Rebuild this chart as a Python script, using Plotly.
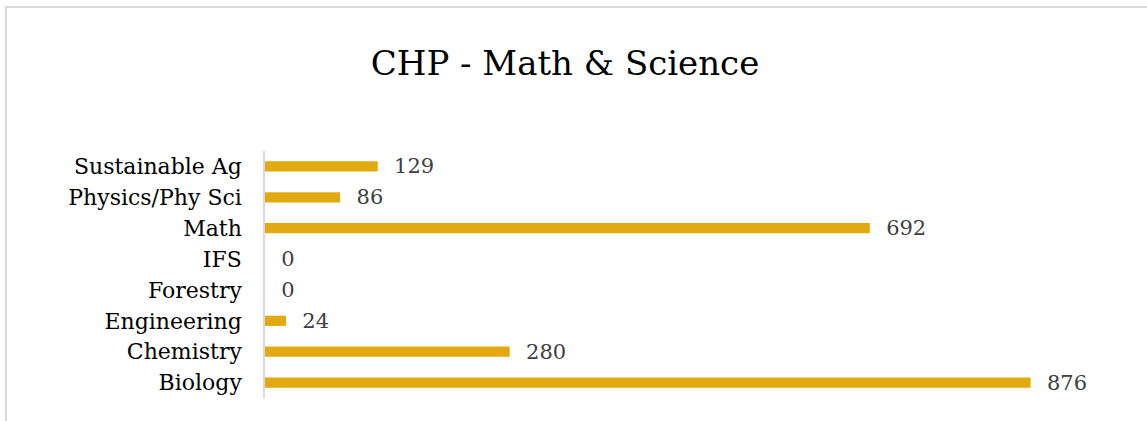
import plotly.graph_objects as go

categories = ["Biology", "Chemistry", "Engineering", "Forestry", "IFS", "Math", "Physics/Phy Sci", "Sustainable Ag"]
values = [876, 280, 24, 0, 0, 692, 86, 129]
title_text = "CHP - Math & Science"

W, H = 1147, 421
L, R, T, B = 265, 43, 151, 23
pw = W - L - R
ph = H - T - B

font_family = "DejaVu Serif"

fig = go.Figure(go.Bar(
    x=values, y=categories, orientation="h",
    marker=dict(color="#E2AA10", line=dict(width=0)),
    width=0.33,
    text=values, texttemplate="  %{x}", textposition="outside",
    constraintext="none",
    textfont=dict(family=font_family, size=21, color="#404040"),
    cliponaxis=False,
))

fig.update_layout(
    width=W, height=H,
    margin=dict(l=L, r=R, t=T, b=B, pad=0),
    paper_bgcolor="white", plot_bgcolor="white",
    title=dict(text=title_text, x=565 / W, xanchor="center", y=1 - 63 / H, yanchor="middle",
               font=dict(family=font_family, size=34, color="#000000")),
    xaxis=dict(range=[0, 960], visible=False, showgrid=False, zeroline=False),
    yaxis=dict(showline=True, linecolor="#D9D9D9", linewidth=1.5, ticks="", showgrid=False,
               tickfont=dict(family=font_family, size=22, color="#000000"), ticklabelstandoff=17),
    showlegend=False,
    shapes=[dict(type="rect", xref="paper", yref="paper",
                 x0=(6 - L) / pw, x1=(W + 20 - L) / pw,
                 y0=-(B + 20) / ph, y1=1 + (T - 7) / ph,
                 line=dict(color="#D9D9D9", width=2), fillcolor="rgba(0,0,0,0)", layer="below")],
)
fig.write_html("out.html", config={"displayModeBar": False},
               post_script="document.body.style.margin='0';document.body.style.padding='0';")
